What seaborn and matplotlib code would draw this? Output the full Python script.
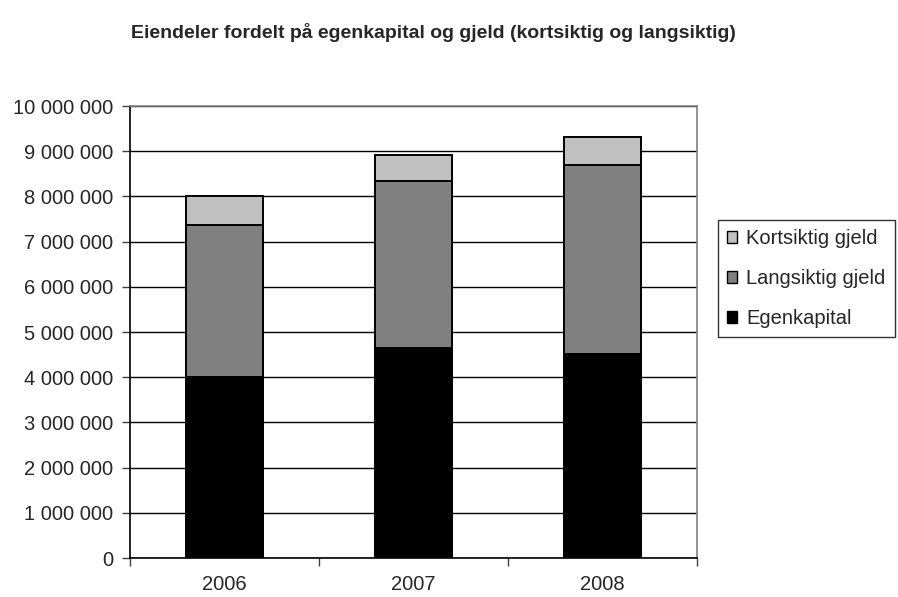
import numpy as np
import pandas as pd
import matplotlib
matplotlib.use("Agg")
import matplotlib.pyplot as plt
import seaborn as sns
from matplotlib.patches import Patch
from matplotlib.ticker import FuncFormatter

# -------------- Data ------------------

years = ["2006", "2007", "2008"]
egenkapital = [4_000_000, 4_650_000, 4_520_000]
langsiktig_gjeld = [3_370_000, 3_690_000, 4_180_000]
kortsiktig_gjeld = [630_000, 580_000, 610_000]

series_names = ["Kortsiktig gjeld", "Langsiktig gjeld", "Egenkapital"]
series_colors = ["#C0C0C0", "#808080", "#000000"]

# stacked totals (drawn from the top down so the lower parts overlay)
df = pd.DataFrame({
    "year": years,
    "Egenkapital": egenkapital,
    "Langsiktig gjeld": langsiktig_gjeld,
    "Kortsiktig gjeld": kortsiktig_gjeld,
})
df["cum_eg"] = df["Egenkapital"]
df["cum_lang"] = df["cum_eg"] + df["Langsiktig gjeld"]
df["cum_kort"] = df["cum_lang"] + df["Kortsiktig gjeld"]

# -------------- Style ------------------

sns.set_style("white")
plt.rcParams["font.family"] = ["Liberation Sans", "DejaVu Sans"]

fig = plt.figure(figsize=(8.98, 5.97), dpi=100)
ax = fig.add_axes([130 / 898, 1 - 558 / 597, (697 - 130) / 898, (558 - 106) / 597])

# -------------- Bars ------------------

for col, color in zip(["cum_kort", "cum_lang", "cum_eg"], series_colors):
    sns.barplot(data=df, x="year", y=col, color=color, width=0.41,
                edgecolor="black", linewidth=1.4, saturation=1, ax=ax, zorder=3)

# -------------- Axes ------------------

ax.set_xlim(-0.5, 2.5)
ax.set_ylim(0, 10_000_000)
ax.set_yticks(np.arange(0, 10_000_001, 1_000_000))
ax.yaxis.set_major_formatter(FuncFormatter(lambda v, p: f"{int(v):,}".replace(",", " ")))
ax.set_xlabel("")
ax.set_ylabel("")

ax.grid(axis="y", color="black", linewidth=1.0, zorder=0)
ax.set_axisbelow(True)

ax.tick_params(axis="y", which="major", direction="out", length=6, width=1,
               color="#404040", labelsize=14.5, pad=6, left=True)
ax.tick_params(axis="x", which="major", length=0, labelsize=14.5, pad=12)
ax.set_xticks([-0.5, 0.5, 1.5, 2.5], minor=True)
ax.tick_params(axis="x", which="minor", direction="out", length=6, width=1,
               color="#404040", bottom=True)

for side in ["left", "bottom"]:
    ax.spines[side].set_color("black")
    ax.spines[side].set_linewidth(1.2)
for side in ["top", "right"]:
    ax.spines[side].set_visible(True)
    ax.spines[side].set_color("#808080")
    ax.spines[side].set_linewidth(1.2)

# -------------- Title & Legend ------------------

fig.text(433 / 898, 1 - 32 / 597, "Eiendeler fordelt på egenkapital og gjeld (kortsiktig og langsiktig)",
         ha="center", va="center", fontsize=14, fontweight="bold")

handles = [Patch(facecolor=c, edgecolor="black", linewidth=1) for c in series_colors]
leg = fig.legend(handles, series_names, loc="upper left",
                 bbox_to_anchor=(718 / 898, 1 - 220 / 597),
                 fontsize=14.5, frameon=True, fancybox=False,
                 handlelength=0.5, handleheight=0.5, handletextpad=0.45,
                 labelspacing=1.05, borderpad=0.45, borderaxespad=0)
leg.get_frame().set_edgecolor("black")
leg.get_frame().set_linewidth(1)

fig.savefig("out.png", dpi=100)
